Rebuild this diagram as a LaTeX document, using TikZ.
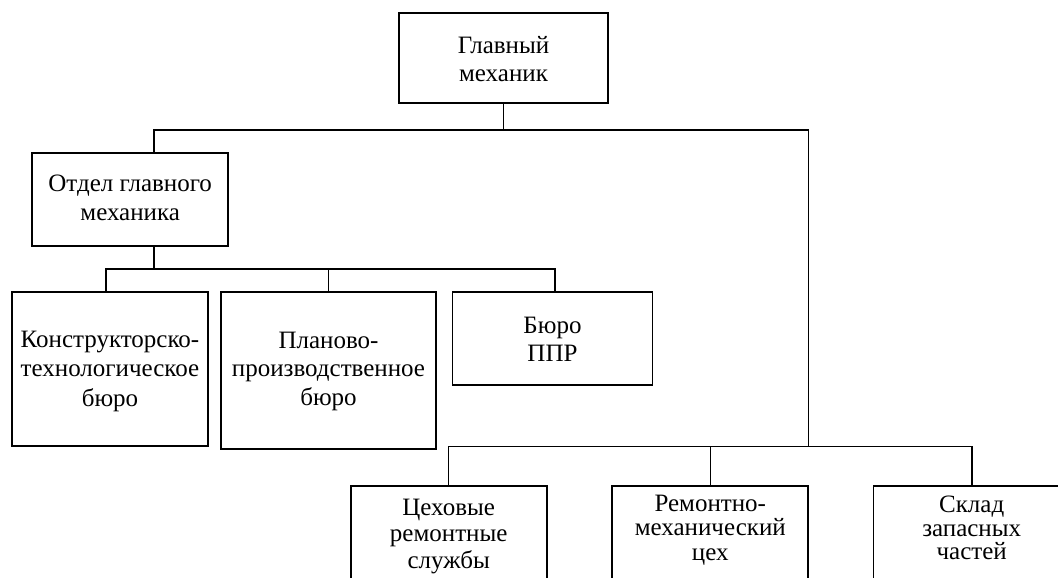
\documentclass[tikz,border=0pt]{standalone}
\usepackage{fontspec}
\setmainfont{Liberation Serif}
% invisible rules that fix the room above the first line and below the last one
\newcommand\topgap[1]{\rule{0pt}{#1}}
\newcommand\botgap[1]{\rule[-#1]{0pt}{#1}}
\begin{document}
\begin{tikzpicture}[x=1pt,y=1pt,
  unit/.style={draw, line width=1.7pt, rectangle, inner sep=0pt, align=center},
  lead/.style={font=\fontsize{25}{#1}\selectfont},
  conn/.style={line width=1.3pt, line join=miter}]
\useasboundingbox (0,0) rectangle (1058,-578);
\clip (0,0) rectangle (1058,-578);

% top level
\node[unit, lead=28.4, minimum width=209pt, minimum height=90pt] (gm) at (503.5,-57.7)
  {\topgap{40.6pt}Главный\\механик\botgap{21pt}};

% department of the chief mechanic and its bureaus
\node[unit, lead=28.3, minimum width=196pt, minimum height=93pt] (ogm) at (130.2,-199.2)
  {\topgap{39pt}Отдел главного\\механика\botgap{25.7pt}};
\node[unit, lead=29.35, minimum width=196.6pt, minimum height=154pt] (ktb) at (110,-369)
  {\topgap{55.3pt}Конструкторско-\\технологическое\\бюро\botgap{40pt}};
\node[unit, lead=28.35, minimum width=215pt, minimum height=157pt] (ppb) at (328.5,-370.5)
  {\topgap{56.3pt}Планово-\\производственное\\бюро\botgap{44pt}};
\node[unit, lead=28.4, minimum width=200pt, minimum height=92.7pt] (bpp) at (552.5,-338.35)
  {\topgap{41.3pt}Бюро\\ППР\botgap{23pt}};

% shop-level services
\node[unit, lead=26.7, minimum width=196pt, minimum height=106.3pt] (ts) at (448.7,-538.85)
  {\topgap{29.3pt}Цеховые\\ремонтные\\службы\botgap{23.6pt}};
\node[unit, lead=24.2, minimum width=196pt, minimum height=106.3pt] (rmc) at (710.3,-538.85)
  {\topgap{26pt}Ремонтно-\\механический\\цех\botgap{31.9pt}};
\node[unit, lead=23.6, minimum width=196.7pt, minimum height=106.3pt] (szc) at (971.7,-538.85)
  {\topgap{27pt}Склад\\запасных\\частей\botgap{32.1pt}};

% bus lines
\coordinate (tA) at (154,-130);
\coordinate (tB) at (808.7,-130);
\coordinate (mA) at (106,-269);
\coordinate (mB) at (555,-269);
\coordinate (bA) at (448.7,-446.5);
\coordinate (bB) at (972,-446.5);

% connectors
\draw[conn] (gm.south) -- (gm.south |- tA);
\draw[conn] (tA |- ogm.north) -- (tA) -- (tB) -- (tB |- bA);
\draw[conn] (ogm.south -| tA) -- (tA |- mA);
\draw[conn] (mA |- ktb.north) -- (mA) -- (mB) -- (mB |- bpp.north);
\draw[conn] (ppb.north) -- (ppb.north |- mA);
\draw[conn] (bA |- ts.north) -- (bA) -- (bB) -- (bB |- szc.north);
\draw[conn] (rmc.north) -- (rmc.north |- bA);
\end{tikzpicture}
\end{document}
